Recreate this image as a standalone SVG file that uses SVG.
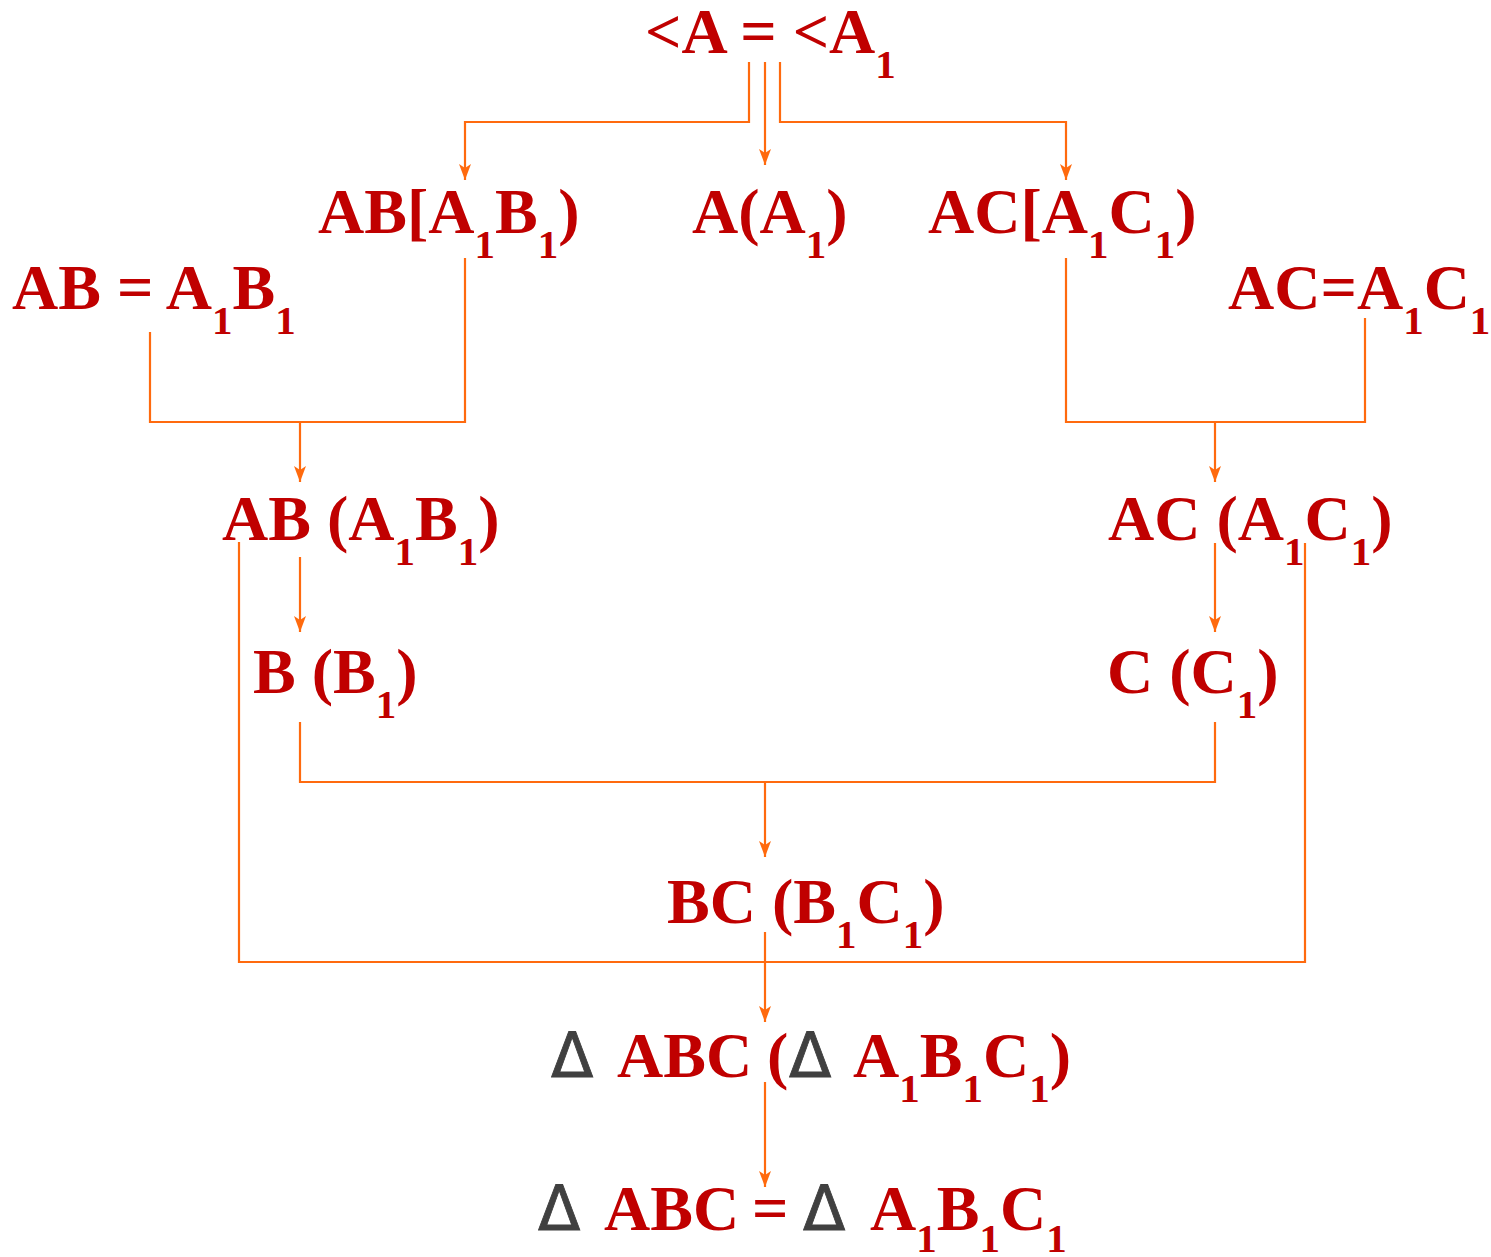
<svg xmlns="http://www.w3.org/2000/svg" width="1491" height="1257" viewBox="0 0 1491 1257">
<style>
.t{font-family:"Liberation Serif","Times New Roman",serif;font-weight:bold;font-size:64px;fill:#C00000}
.s{font-size:41px}
.d{font-family:"DejaVu Sans",sans-serif;font-weight:normal;font-size:62px;fill:#404040;stroke:#404040;stroke-width:0.8}
.c{fill:none;stroke:#FF6A0E;stroke-width:2.2}
</style>
<defs>
<marker id="ah" markerUnits="userSpaceOnUse" markerWidth="16" markerHeight="12" viewBox="0 0 16 12" refX="16" refY="6" orient="auto">
<path d="M0,0 L16,6 L0,12 L4,6 Z" fill="#FF6A0E"/>
</marker>
</defs>
<rect width="1491" height="1257" fill="#fff"/>
<g id="connectors">
<path class="c" d="M749,62 V122 H465 V180" marker-end="url(#ah)"/>
<path class="c" d="M765,62 V165" marker-end="url(#ah)"/>
<path class="c" d="M780,62 V122 H1066 V180" marker-end="url(#ah)"/>
<path class="c" d="M150,332 V422 H465 V258"/>
<path class="c" d="M300,422 V482" marker-end="url(#ah)"/>
<path class="c" d="M1066,258 V422 H1365 V318"/>
<path class="c" d="M1215,422 V482" marker-end="url(#ah)"/>
<path class="c" d="M300,557 V632" marker-end="url(#ah)"/>
<path class="c" d="M1215,543 V632" marker-end="url(#ah)"/>
<path class="c" d="M300,722 V782 H1215 V722"/>
<path class="c" d="M765,782 V857" marker-end="url(#ah)"/>
<path class="c" d="M239,542 V962 H1305 V543"/>
<path class="c" d="M765,932 V1022" marker-end="url(#ah)"/>
<path class="c" d="M765,1082 V1187" marker-end="url(#ah)"/>
</g>
<g id="n1"><text class="t" x="645" y="53">&lt;A = &lt;A<tspan class="s" dy="25">1</tspan></text></g>
<g id="n2"><text class="t" x="318" y="233">AB[A<tspan class="s" dy="25">1</tspan><tspan dy="-25">B</tspan><tspan class="s" dy="25">1</tspan><tspan dy="-25">)</tspan></text></g>
<g id="n3"><text class="t" x="692" y="233">A(A<tspan class="s" dy="25">1</tspan><tspan dy="-25">)</tspan></text></g>
<g id="n4"><text class="t" x="928" y="233">AC[A<tspan class="s" dy="25">1</tspan><tspan dy="-25">C</tspan><tspan class="s" dy="25">1</tspan><tspan dy="-25">)</tspan></text></g>
<g id="n5"><text class="t" x="12" y="309">AB = A<tspan class="s" dy="25">1</tspan><tspan dy="-25">B</tspan><tspan class="s" dy="25">1</tspan></text></g>
<g id="n6"><text class="t" x="1228" y="309">AC=A<tspan class="s" dy="25">1</tspan><tspan dy="-25">C</tspan><tspan class="s" dy="25">1</tspan></text></g>
<g id="n7"><text class="t" x="222" y="540">AB (A<tspan class="s" dy="25">1</tspan><tspan dy="-25">B</tspan><tspan class="s" dy="25">1</tspan><tspan dy="-25">)</tspan></text></g>
<g id="n8"><text class="t" x="1108" y="540">AC (A<tspan class="s" dy="25">1</tspan><tspan dy="-25">C</tspan><tspan class="s" dy="25">1</tspan><tspan dy="-25">)</tspan></text></g>
<g id="n9"><text class="t" x="253" y="693">B (B<tspan class="s" dy="25">1</tspan><tspan dy="-25">)</tspan></text></g>
<g id="n10"><text class="t" x="1107" y="693">C (C<tspan class="s" dy="25">1</tspan><tspan dy="-25">)</tspan></text></g>
<g id="n11"><text class="t" x="667" y="923">BC (B<tspan class="s" dy="25">1</tspan><tspan dy="-25">C</tspan><tspan class="s" dy="25">1</tspan><tspan dy="-25">)</tspan></text></g>
<g id="n12"><text class="t" y="1077"><tspan class="d" x="551">Δ</tspan><tspan x="617">ABC</tspan><tspan x="767">(</tspan><tspan class="d" x="789">Δ</tspan><tspan x="853">A</tspan><tspan class="s" dy="25">1</tspan><tspan dy="-25">B</tspan><tspan class="s" dy="25">1</tspan><tspan dy="-25">C</tspan><tspan class="s" dy="25">1</tspan><tspan dy="-25">)</tspan></text></g>
<g id="n13"><text class="t" y="1230"><tspan class="d" x="538">Δ</tspan><tspan x="604">ABC</tspan><tspan x="752">=</tspan><tspan class="d" x="803">Δ</tspan><tspan x="870">A</tspan><tspan class="s" dy="22">1</tspan><tspan dy="-22">B</tspan><tspan class="s" dy="22">1</tspan><tspan dy="-22">C</tspan><tspan class="s" dy="22">1</tspan></text></g>
</svg>
